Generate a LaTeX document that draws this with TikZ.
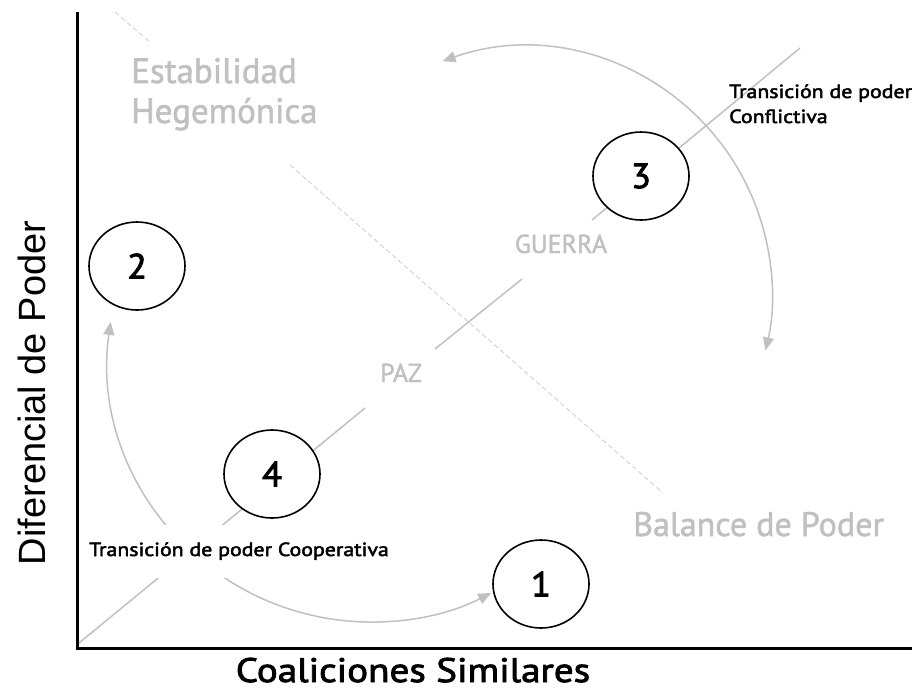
\documentclass[tikz,border=0pt]{standalone}
\usepackage{fontspec}
\setmainfont{PT Sans}
\newfontfamily\axisfont{Liberation Sans}
\newfontfamily\dinmed{PT Sans}[FakeBold=2.5, FakeStretch=1.15]
\newfontfamily\dinnum{PT Sans}[FakeBold=2.5, FakeStretch=1.05]
\newfontfamily\dinreg{PT Sans}[FakeBold=1.5]
\usetikzlibrary{arrows.meta,shapes.geometric,calc}
\definecolor{lgray}{RGB}{192,192,192}
\definecolor{dgray}{RGB}{204,204,204}
\begin{document}
\begin{tikzpicture}[x=1pt,y=-1pt,
  axisline/.style={line width=3pt, black, line join=miter},
  mainline/.style={line width=1.5pt, lgray},
  dashline/.style={line width=0.8pt, dgray, dash pattern=on 5pt off 3pt},
  arrowline/.style={line width=1.5pt, lgray, {Triangle[length=13pt,width=11pt]}-{Triangle[length=13pt,width=11pt]}},
  numcirc/.style={ellipse, draw=black, line width=1.6pt, fill=white, minimum width=96pt, minimum height=88pt, inner sep=0pt, font=\dinnum\fontsize{35}{40}\selectfont},
  regionbig/.style={text=lgray, inner sep=0pt, align=left, font=\dinreg\fontsize{35}{40}\selectfont},
  regionsmall/.style={text=lgray, inner sep=0pt, font=\dinreg\fontsize{26}{30}\selectfont},
  notetext/.style={inner sep=0pt, align=left, font=\dinmed\fontsize{19}{25}\selectfont},
  axistext/.style={inner sep=0pt, font=\dinmed\fontsize{34}{38}\selectfont}
]
\useasboundingbox (0,0) rectangle (912,689);
% dashed separator
\coordinate (d0) at (115,12);
\coordinate (d1) at (150,42);
\coordinate (d2) at (290,165);
\coordinate (d3) at (663,493);
\draw[dashline] (d0) -- (d1);
\draw[dashline] (d2) -- (d3);
% main diagonal
\coordinate (o) at (79,643);
\coordinate (p1) at (365,408);
\coordinate (p2) at (435,349);
\coordinate (p3) at (522,279);
\coordinate (p4) at (592,220);
\coordinate (e) at (800,48);
\draw[mainline] (o) -- (p1);
\draw[mainline] (p2) -- (p3);
\draw[mainline] (p4) -- (e);
% arcs
\coordinate (ctop) at (525,294);
\coordinate (cbot) at (371,359);
\draw[arrowline] ($(ctop)+(250.5:247)$) arc[start angle=250.5, end angle=373.2, radius=247];
\draw[arrowline] ($(cbot)+(188.1:263)$) arc[start angle=188.1, end angle=62.8, radius=263];
% cooperative label (covers the lines)
\node[notetext, anchor=base west, fill=white, text height=14pt, text depth=4pt, inner ysep=17.5pt, inner xsep=2pt] (coop) at (87,556) {Transición de poder Cooperativa};
% axes
\coordinate (ytop) at (77,12);
\coordinate (orig) at (77,648);
\coordinate (xend) at (912,648);
\draw[axisline] (ytop) -- (orig) -- (xend);
% circles
\node[numcirc] (n1) at (541,584) {1};
\node[numcirc] (n2) at (137,266) {2};
\node[numcirc] (n3) at (641,176) {3};
\node[numcirc] (n4) at (272,474) {4};
% region labels
\node[regionbig, anchor=base west] (estab) at (131,123) {Estabilidad\\Hegemónica};
\node[regionbig, anchor=base west, font=\dinreg\fontsize{34}{40}\selectfont] (balance) at (633,536) {Balance de Poder};
\node[regionsmall, anchor=base] (guerra) at (561,253) {GUERRA};
\node[regionsmall, anchor=base] (paz) at (401,382) {PAZ};
\node[notetext, anchor=base west] (confl) at (729,123) {Transición de poder\\Conflictiva};
% axis labels
\node[axistext, anchor=base] (xlab) at (413,682) {Coaliciones Similares};
\node[anchor=base, inner sep=0pt, rotate=90, font=\axisfont\fontsize{38}{44}\selectfont] (ylab) at (45,393) {Diferencial de Poder};
\end{tikzpicture}
\end{document}
